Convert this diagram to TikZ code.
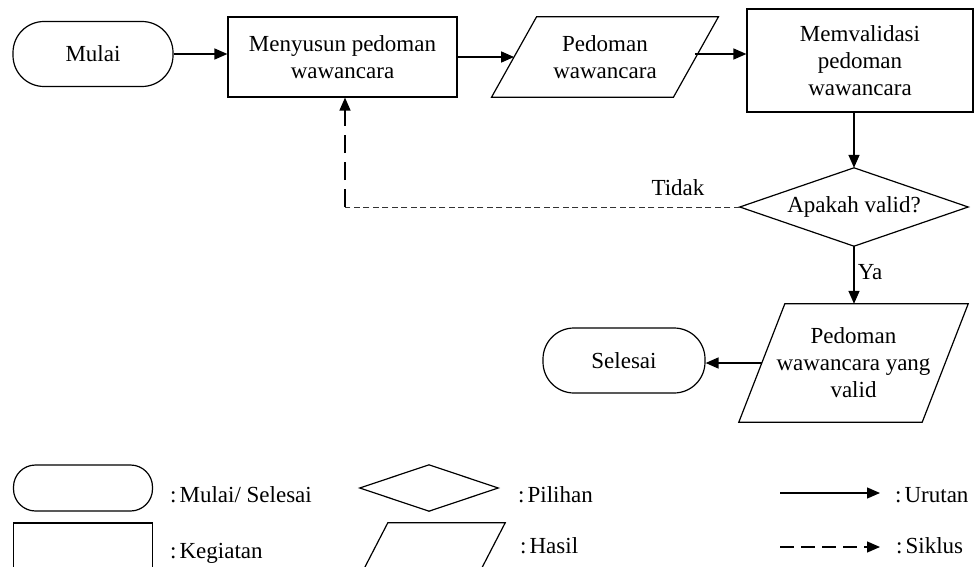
\documentclass[tikz,border=0pt]{standalone}
\usepackage{fontspec}
\setmainfont{Liberation Serif}
\usetikzlibrary{arrows.meta,calc}
\begin{document}
\begin{tikzpicture}[x=1pt,y=-1pt,
  every node/.style={font=\fontsize{23}{27}\selectfont, align=center, inner sep=0pt},
  shapeline/.style={line width=1.2pt},
  terminal/.style={shapeline, draw, rounded corners=31pt, minimum width=160pt, minimum height=65pt},
  process/.style={shapeline, draw},
  tip/.style={-{Triangle[length=13pt,width=11pt]}},
  flow/.style={line width=1.6pt, tip},
  loopback/.style={line width=0.9pt, draw=black!80},
  legtext/.style={anchor=base west}
]
\clip (0,0) rectangle (974,567);

% flow nodes
\node[terminal] (mulai) at (93,54) {Mulai};
\node[process, minimum width=229pt, minimum height=80pt] (susun) at (342.5,57) {Menyusun pedoman\\wawancara};
\node[minimum width=181.5pt, minimum height=80pt] (hasil1) at (605,57) {Pedoman\\wawancara};
\draw[shapeline] ([xshift=22.5pt]hasil1.north west) -- ([xshift=22.5pt]hasil1.north east)
  -- ([xshift=-22.5pt]hasil1.south east) -- ([xshift=-22.5pt]hasil1.south west) -- cycle;
\node[process, minimum width=226pt, minimum height=103pt] (valid) at (860,60.5) {Memvalidasi\\pedoman\\wawancara};
\node[minimum width=228pt, minimum height=78pt] (cek) at (854,207) {Apakah valid?};
\draw[shapeline] (cek.north) -- (cek.east) -- (cek.south) -- (cek.west) -- cycle;
\node[minimum width=183pt, minimum height=118pt] (hasil2) at (853.5,363) {Pedoman\\wawancara yang\\valid};
\draw[shapeline] ([xshift=23pt]hasil2.north west) -- ([xshift=23pt]hasil2.north east)
  -- ([xshift=-23pt]hasil2.south east) -- ([xshift=-23pt]hasil2.south west) -- cycle;
\node[terminal, minimum width=162pt] (selesai) at (624,360.5) {Selesai};

% connectors
\coordinate (keluar) at ([shift={(-1pt,3pt)}]hasil1.east);
\draw[flow] (mulai.east) -- (mulai.east -| susun.west);
\draw[flow] (susun.east |- hasil1.west) -- (hasil1.west);
\draw[flow] (keluar) -- (keluar -| valid.west);
\draw[flow] (valid.south -| cek.north) -- (cek.north);
\draw[flow] (cek.south) -- (hasil2.north -| cek.south);
\draw[flow] (hasil2.west) -- (selesai.east |- hasil2.west);
\coordinate (belok) at ([xshift=2.5pt]susun.south |- cek.west);
\draw[loopback, dash pattern=on 6pt off 3.5pt] (cek.west) -- (belok);
\draw[line width=1.4pt, dash pattern=on 18pt off 9pt, tip]
  (belok) -- ([xshift=2.5pt]susun.south);
\node (tidak) at (678,188) {Tidak};
\node (ya) at (870,272) {Ya};

% legend
\node[terminal, rounded corners=22pt, minimum width=139pt, minimum height=46pt] (lterm) at (83,488) {};
\node[process, minimum width=139pt, minimum height=46pt] (lproc) at (83,546) {};
\node[minimum width=138pt, minimum height=46pt] (ldia) at (429,488) {};
\draw[shapeline] (ldia.north) -- (ldia.east) -- (ldia.south) -- (ldia.west) -- cycle;
\node[minimum width=117pt, minimum height=46pt] (lpar) at (434.5,546) {};
\draw[shapeline] ([xshift=12pt]lpar.north west) -- ([xshift=12pt]lpar.north east)
  -- ([xshift=-12pt]lpar.south east) -- ([xshift=-12pt]lpar.south west) -- cycle;
\coordinate (u1) at (780,493);
\coordinate (u2) at (880,493);
\coordinate (s1) at (780,547);
\coordinate (s2) at (880,547);
\draw[flow, line width=1.3pt] (u1) -- (u2);
\draw[line width=1.3pt, dash pattern=on 14pt off 7pt, tip] (s1) -- (s2);
\node[legtext] (tterm) at (170,502) {:\hspace{3pt}Mulai/ Selesai};
\node[legtext] (tproc) at (170,558) {:\hspace{3pt}Kegiatan};
\node[legtext] (tdia) at (518,502) {:\hspace{3pt}Pilihan};
\node[legtext] (tpar) at (520,553) {:\hspace{3pt}Hasil};
\node[legtext] (turut) at (895,502) {:\hspace{3pt}Urutan};
\node[legtext] (tsik) at (896,553) {:\hspace{3pt}Siklus};
\end{tikzpicture}
\end{document}
